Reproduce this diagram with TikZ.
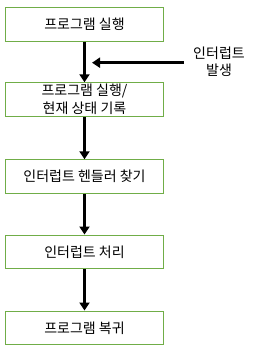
\documentclass[tikz,border=0pt]{standalone}
\usepackage{fontspec}
\setmainfont{Noto Sans CJK KR}
\usetikzlibrary{arrows.meta, positioning}
\definecolor{boxgreen}{RGB}{112,173,71}

\begin{document}
\begin{tikzpicture}[x=1pt,y=-1pt,
        stepbox/.style={draw=boxgreen, line width=1pt, minimum width=158pt, minimum height=33.5pt, inner sep=1pt, align=center, font=\fontsize{14}{17.5}\selectfont},
        flow/.style={line width=3pt, -{Triangle[length=8pt,width=10pt]}}]
        \useasboundingbox (0,0) rectangle (260,351);

        % Stappen
        \node[stepbox] (run)    at (84.5,24.3)  {프로그램 실행};
        \node[stepbox] (save)   at (84.5,99.5)  {프로그램 실행/\\현재 상태 기록};
        \node[stepbox] (find)   at (84.5,176.5) {인터럽트 헨들러 찾기};
        \node[stepbox] (handle) at (84.5,251.8) {인터럽트 처리};
        \node[stepbox] (resume) at (84.5,327.8) {프로그램 복귀};

        % Pijlen
        \draw[flow] (run) -- (save);
        \draw[flow] (save) -- (find);
        \draw[flow] (find) -- (handle);
        \draw[flow] (handle) -- (resume);

        % Interrupt
        \node[align=center, font=\fontsize{14}{17.5}\selectfont] (irq) at (219,61.5) {인터럽트\\발생};
        \coordinate (hit) at (92,62.7);
        \draw[flow] (irq.west |- hit) ++(-6,0) coordinate (from) -- (hit);
    \end{tikzpicture}
\end{document}
